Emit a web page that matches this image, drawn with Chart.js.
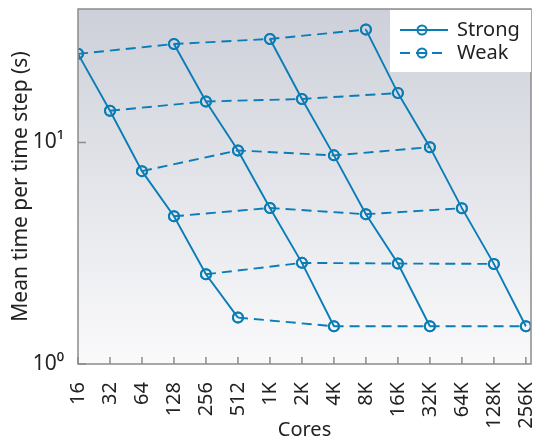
<!DOCTYPE html>
<html>
<head>
<meta charset="utf-8">
<script src="https://cdn.jsdelivr.net/npm/chart.js@4.4.0/dist/chart.umd.min.js"></script>
<style>
  html, body { margin: 0; padding: 0; background: #fff; overflow: hidden; }
  /* a few px wider than the window: chart.js keeps 7px at the right edge */
  #wrap { width: 538px; height: 442px; }
</style>
</head>
<body>
<div id="wrap"><canvas id="scaling"></canvas></div>
<script>
const cores = ["16", "32", "64", "128", "256", "512", "1K", "2K", "4K", "8K", "16K", "32K", "64K", "128K", "256K"];

// strong scaling runs, each starts at a core count (index into cores)
const strongStart = [0, 3, 6, 9];
const strongA = [25.1, 13.9, 7.42, 4.64, 2.54, 1.62];
const strongB = [27.8, 15.3, 9.2, 5.06, 2.86, 1.48];
const strongC = [29.3, 15.7, 8.74, 4.74, 2.84, 1.48];
const strongD = [32.3, 16.7, 9.52, 5.05, 2.83, 1.48];
const strongRuns = [strongA, strongB, strongC, strongD];

const yTicks = [1, 10];
const yTickLabels = ["10⁰", "10¹"];

const blue = "#0a7db6";
const font = "'Noto Sans', 'Open Sans', sans-serif";

const datasets = [];

// weak scaling: same position in each strong run
for (let j = 0; j < 6; j++) {
  datasets.push({
    label: "Weak",
    data: strongRuns.map((run, k) => ({ x: strongStart[k] + j, y: run[j] })),
    borderColor: blue,
    borderWidth: 1.9,
    borderDash: [10, 6],
    pointRadius: 5,
    pointBorderWidth: 2,
    pointBackgroundColor: "rgba(0,0,0,0)",
    pointBorderColor: blue,
    showLine: true
  });
}

strongRuns.forEach((run, k) => {
  datasets.push({
    label: "Strong",
    data: run.map((v, j) => ({ x: strongStart[k] + j, y: v })),
    borderColor: blue,
    borderWidth: 1.9,
    pointRadius: 5,
    pointBorderWidth: 2,
    pointBackgroundColor: "rgba(0,0,0,0)",
    pointBorderColor: blue,
    showLine: true
  });
});

const backdrop = {
  id: "backdrop",
  beforeDatasetsDraw(chart) {
    const { ctx, chartArea: a } = chart;
    const g = ctx.createLinearGradient(0, a.top, 0, a.bottom);
    g.addColorStop(0, "#cdd0d9");
    g.addColorStop(1, "#fafafb");
    ctx.save();
    ctx.fillStyle = g;
    ctx.fillRect(a.left, a.top, a.right - a.left, a.bottom - a.top);
    ctx.restore();
  },
  afterDatasetsDraw(chart) {
    const { ctx, chartArea: a, scales } = chart;
    ctx.save();
    ctx.strokeStyle = "#8c8c8c";
    ctx.lineWidth = 1.5;
    ctx.strokeRect(a.left, a.top, a.right - a.left, a.bottom - a.top);
    // inward tick marks
    ctx.beginPath();
    cores.forEach((c, i) => {
      const x = scales.x.getPixelForValue(i);
      ctx.moveTo(x, a.bottom);
      ctx.lineTo(x, a.bottom - 7);
    });
    yTicks.forEach(v => {
      const y = scales.y.getPixelForValue(v);
      ctx.moveTo(a.left, y);
      ctx.lineTo(a.left + 8, y);
    });
    ctx.stroke();

    // legend
    const bx = 390, by = 10, bw = a.right - bx, bh = 62;
    ctx.fillStyle = "#fff";
    ctx.fillRect(bx, by, bw, bh);
    ctx.strokeStyle = blue;
    ctx.lineWidth = 1.9;
    const rows = [{ t: "Strong", y: by + 20, dash: [] }, { t: "Weak", y: by + 43, dash: [10, 6] }];
    rows.forEach(r => {
      ctx.setLineDash(r.dash);
      ctx.beginPath();
      ctx.moveTo(400, r.y);
      ctx.lineTo(448, r.y);
      ctx.stroke();
      ctx.setLineDash([]);
      ctx.lineWidth = 2;
      ctx.beginPath();
      ctx.arc(422, r.y, 4.5, 0, Math.PI * 2);
      ctx.stroke();
      ctx.lineWidth = 1.9;
      ctx.fillStyle = "#222";
      ctx.font = "20px " + font;
      ctx.textBaseline = "middle";
      ctx.fillText(r.t, 457, r.y);
    });
    ctx.restore();
  }
};

new Chart(document.getElementById("scaling"), {
  type: "scatter",
  data: { datasets },
  plugins: [backdrop],
  options: {
    responsive: true,
    maintainAspectRatio: false,
    animation: false,
    layout: { padding: { top: 9, right: 3, left: 8, bottom: 0 } },
    plugins: { legend: { display: false }, tooltip: { enabled: false } },
    scales: {
      x: {
        type: "linear",
        min: 0,
        max: 14.16,
        afterBuildTicks(scale) {
          scale.ticks = cores.map((c, i) => ({ value: i }));
        },
        afterFit(scale) {
          scale.height = 78;
          scale.paddingLeft = 0;
          scale.paddingRight = 0;
        },
        border: { display: false },
        grid: { display: false },
        ticks: {
          autoSkip: false,
          minRotation: 90,
          maxRotation: 90,
          padding: 10,
          color: "#222",
          font: { family: font, size: 20 },
          callback: v => cores[v]
        },
        title: {
          display: true,
          text: "Cores",
          color: "#222",
          padding: { top: 0, bottom: 0 },
          font: { family: font, size: 20 }
        }
      },
      y: {
        type: "logarithmic",
        min: 1,
        max: 40,
        afterBuildTicks(scale) {
          scale.ticks = yTicks.map(v => ({ value: v }));
        },
        afterFit(scale) {
          scale.width = 70;
          scale.paddingTop = 0;
          scale.paddingBottom = 0;
        },
        border: { display: false },
        grid: { display: false },
        ticks: {
          padding: 6,
          color: "#222",
          font: { family: font, size: 21 },
          callback: v => yTickLabels[yTicks.indexOf(v)]
        },
        title: {
          display: true,
          text: "Mean time per time step (s)",
          color: "#222",
          padding: { top: 0, bottom: 4 },
          font: { family: font, size: 21 }
        }
      }
    }
  }
});
</script>
</body>
</html>
